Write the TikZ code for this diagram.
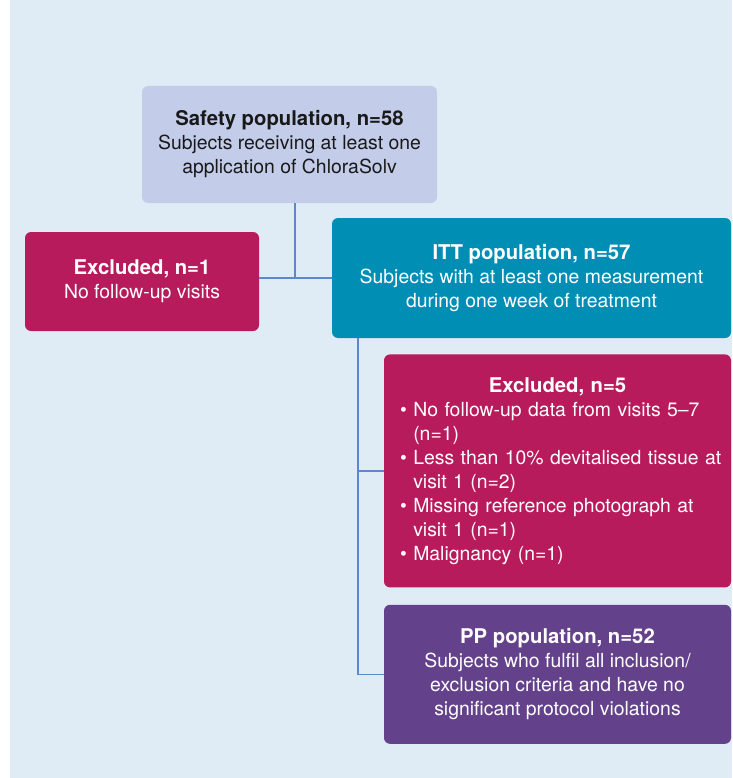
\documentclass[tikz,border=0pt]{standalone}
\usepackage{fontspec}
\setmainfont{TeX Gyre Heros}
\usetikzlibrary{positioning}
\definecolor{pagebg}{HTML}{DFECF5}
\definecolor{safetyc}{HTML}{C3CDEA}
\definecolor{exclc}{HTML}{B81B5C}
\definecolor{ittc}{HTML}{008EB5}
\definecolor{ppc}{HTML}{64418B}
\definecolor{linkc}{HTML}{5E88C9}
\newcommand{\headline}[1]{{\fontsize{20.3}{24}\selectfont\bfseries #1}}
\newcommand{\bulletline}[1]{\mbox{\textbullet\ #1}}
\newcommand{\hangline}[1]{\mbox{\phantom{\textbullet\ }#1}}
\tikzset{
  popbox/.style={rounded corners=6pt,inner sep=0pt,align=center,text=white,
    font=\fontsize{19.4}{24}\selectfont},
  safetybox/.style={popbox,fill=safetyc,text=black!90,minimum width=295pt,minimum height=117pt},
  exclbox/.style={popbox,fill=exclc},
  ittbox/.style={popbox,fill=ittc,minimum width=399pt,minimum height=120pt},
  ppbox/.style={popbox,fill=ppc,minimum width=347pt,minimum height=139pt},
  % --- thin flow lines between the populations ---
  link/.style={draw=linkc,line width=1.2pt},
}
\begin{document}
\begin{tikzpicture}[x=1pt,y=-1pt]
  \useasboundingbox (0,0) rectangle (732,778);
  \fill[white] (0,0) rectangle (10,778);
  \fill[pagebg] (10,0) rectangle (732,778);

  \node[safetybox](safety) at (289.5,144.5){\headline{Safety population, n=58}\\Subjects receiving at least one\\application of ChloraSolv};
  \node[ittbox](itt) at (531.5,278){\headline{ITT population, n=57}\\Subjects with at least one measurement\\during one week of treatment};
  \node[exclbox,minimum width=234pt,minimum height=99pt](excl1) at (142,281.5){\headline{Excluded, n=1}\\No follow-up visits};
  \node[exclbox,minimum width=347pt,minimum height=233pt,text width=315pt,align=left,
    below=16pt of itt.south east,anchor=north east](excl5){%
    {\centering\headline{Excluded, n=5}\par}
    \bulletline{No follow-up data from visits 5--7}\\
    \hangline{(n=1)}\\
    \bulletline{Less than 10\% devitalised tissue at}\\
    \hangline{visit 1 (n=2)}\\
    \bulletline{Missing reference photograph at}\\
    \hangline{visit 1 (n=1)}\\
    \bulletline{Malignancy (n=1)}};
  \node[ppbox,below=17pt of excl5.south east,anchor=north east](pp){\headline{PP population, n=52}\\Subjects who fulfil all inclusion/\\exclusion criteria and have no\\significant protocol violations};

  % split under the safety box
  \coordinate (split) at (295,278);
  \draw[link](safety.south -| split)--(split);
  \draw[link](excl1.east |- split)--(itt.west |- split);
  % trunk down from ITT
  \coordinate (trunk) at (358,0);
  \draw[link](itt.south -| trunk)|-(pp.west);
  \draw[link](excl5.west -| trunk)--(excl5.west);
\end{tikzpicture}
\end{document}
